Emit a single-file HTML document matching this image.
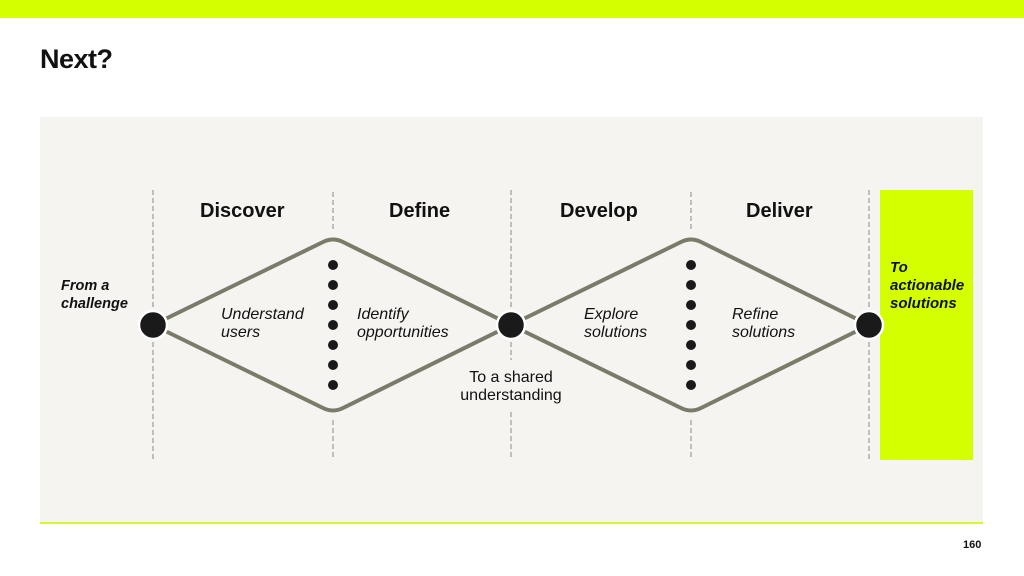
<!DOCTYPE html>
<html><head><style>
body{margin:0;width:1024px;height:576px;background:#fff;position:relative;overflow:hidden;font-family:"Liberation Sans",sans-serif;}
.t{position:absolute;color:#111;}
</style></head><body>
<div style="position:absolute;left:0;top:0;width:1024px;height:18px;background:#d4ff00"></div>
<div class="t" style="left:40px;top:44px;font-size:27px;font-weight:bold;letter-spacing:-0.5px">Next?</div>
<div style="position:absolute;left:40px;top:117px;width:943px;height:406px;background:#f5f4f1"></div>
<div style="position:absolute;left:40px;top:522px;width:943px;height:2px;background:#d8f53a"></div>
<div style="position:absolute;left:880px;top:190px;width:93px;height:270px;background:#d4ff00"></div>
<svg width="1024" height="576" style="position:absolute;left:0;top:0">
<g stroke="#888" stroke-width="1" stroke-dasharray="5,3">
<line x1="153" y1="190" x2="153" y2="308"/><line x1="153" y1="342" x2="153" y2="460"/>
<line x1="333" y1="192" x2="333" y2="230"/><line x1="333" y1="420" x2="333" y2="460"/>
<line x1="511" y1="190" x2="511" y2="308"/><line x1="511" y1="342" x2="511" y2="360"/><line x1="511" y1="412" x2="511" y2="460"/>
<line x1="691" y1="192" x2="691" y2="230"/><line x1="691" y1="420" x2="691" y2="460"/>
<line x1="869" y1="190" x2="869" y2="308"/><line x1="869" y1="342" x2="869" y2="460"/>
</g>
<g fill="none" stroke="#7b7b69" stroke-width="4" stroke-linejoin="round">
<path d="M153 325 L323 242 Q333 237 343 242 L511 325 L343 408 Q333 413 323 408 Z"/>
<path d="M511 325 L681 242 Q691 237 701 242 L869 325 L701 408 Q691 413 681 408 Z"/>
</g>
<g fill="#1a1a1a" stroke="#fff" stroke-width="2.5">
<circle cx="153" cy="325" r="14"/><circle cx="511" cy="325" r="14"/><circle cx="869" cy="325" r="14"/>
</g>
<g fill="#1a1a1a">
<circle cx="333" cy="265" r="5"/><circle cx="333" cy="285" r="5"/><circle cx="333" cy="305" r="5"/><circle cx="333" cy="325" r="5"/><circle cx="333" cy="345" r="5"/><circle cx="333" cy="365" r="5"/><circle cx="333" cy="385" r="5"/>
<circle cx="691" cy="265" r="5"/><circle cx="691" cy="285" r="5"/><circle cx="691" cy="305" r="5"/><circle cx="691" cy="325" r="5"/><circle cx="691" cy="345" r="5"/><circle cx="691" cy="365" r="5"/><circle cx="691" cy="385" r="5"/>
</g>
</svg>
<div class="t" style="left:200px;top:200px;font-size:20px;font-weight:bold">Discover</div>
<div class="t" style="left:389px;top:200px;font-size:20px;font-weight:bold">Define</div>
<div class="t" style="left:560px;top:200px;font-size:20px;font-weight:bold">Develop</div>
<div class="t" style="left:746px;top:200px;font-size:20px;font-weight:bold">Deliver</div>
<div class="t" style="left:61px;top:277px;font-size:14.5px;font-weight:bold;font-style:italic;line-height:18px">From a<br>challenge</div>
<div class="t" style="left:221px;top:306px;font-size:16px;font-style:italic;line-height:18px">Understand<br>users</div>
<div class="t" style="left:357px;top:306px;font-size:16px;font-style:italic;line-height:18px">Identify<br>opportunities</div>
<div class="t" style="left:584px;top:306px;font-size:16px;font-style:italic;line-height:18px">Explore<br>solutions</div>
<div class="t" style="left:732px;top:306px;font-size:16px;font-style:italic;line-height:18px">Refine<br>solutions</div>
<div class="t" style="left:446px;top:369px;width:130px;text-align:center;font-size:16px;line-height:18px">To a shared<br>understanding</div>
<div class="t" style="left:890px;top:259px;font-size:15px;font-weight:bold;font-style:italic;line-height:18px">To<br>actionable<br>solutions</div>
<div class="t" style="left:963px;top:539px;font-size:11px;font-weight:bold">160</div>
</body></html>
